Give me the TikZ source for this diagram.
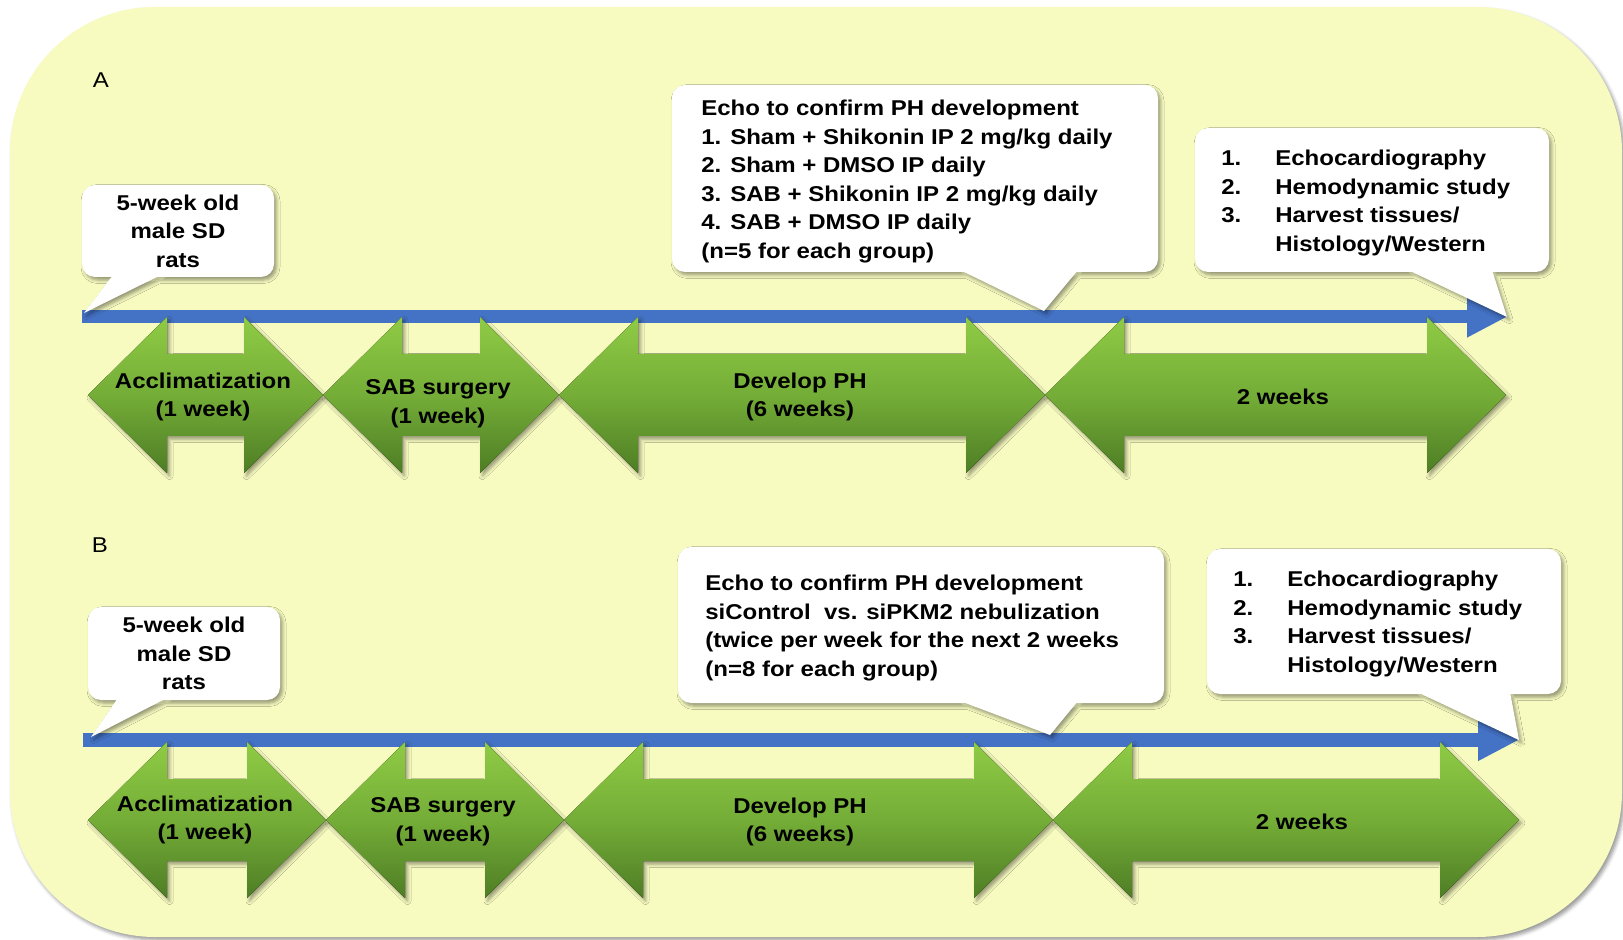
\documentclass[tikz,border=0pt]{standalone}
\usepackage{fontspec}
\setmainfont{Liberation Sans}[FakeStretch=1.12]
\usepackage{tikz}
\usetikzlibrary{calc,shadows.blur,positioning,arrows.meta}
\definecolor{bgyellow}{HTML}{F7FBC0}
\definecolor{lineblue}{HTML}{4472C4}
\definecolor{gtop}{HTML}{8FCB45}
\definecolor{gmid}{HTML}{74AD37}
\definecolor{gbot}{HTML}{4E7D25}
\tikzset{
  >=latex,
  soft shadow/.style={blur shadow={shadow xshift=0.5mm,shadow yshift=-0.6mm,shadow blur radius=0.7mm,shadow opacity=40}},
  big txt/.style={font=\fontsize{12.2}{16.3}\selectfont\bfseries},
  panel label/.style={font=\fontsize{12.2}{16.3}\selectfont,inner sep=0},
  timeline/.style={lineblue,line width=2.7mm,-{Triangle[length=8.2mm,width=7.8mm]}},
  bubble box/.style={rectangle,inner sep=0,outer sep=0},
  bubble/.style={fill=white,soft shadow},
  bubble text/.style={big txt,inner sep=0},
  phase/.style={top color=gtop,bottom color=gbot,middle color=gmid,soft shadow},
  phase text/.style={big txt,align=center,inner sep=0,yshift=-0.4mm}
}
% white speech bubble on box node #1, pointer base at #2..#3 from its left side, tip at #4
\newcommand\bubbleof[4]{%
  \fill[bubble] (#1.south west) [rounded corners=2.6mm] -- (#1.north west) -- (#1.north east) -- (#1.south east) -- cycle
    [sharp corners] ([xshift=#3,yshift=0.4mm]#1.south west) -- (#4) -- ([xshift=#2,yshift=0.4mm]#1.south west) -- cycle;}
% green double arrow from #3 to #4 on height #5, text #6
\newcommand\phase[6][]{%
  \fill[phase] (#3,#5) -- (#3+79,#5-78) -- (#3+79,#5-41) -- (#4-79,#5-41) -- (#4-79,#5-78)
    -- (#4,#5) -- (#4-79,#5+78) -- (#4-79,#5+41) -- (#3+79,#5+41) -- (#3+79,#5+78) -- cycle;
  \node[phase text,#1] (#2) at ({(#3+#4)/2},#5) {#6};}

\begin{document}
\begin{tikzpicture}[x=0.2mm,y=-0.2mm]
  \useasboundingbox (0,0) rectangle (1623,940);

  % background and time axes
  \fill[bgyellow,rounded corners=29mm,soft shadow] (10,7) rectangle (1622,937);
  \coordinate (startA) at (82,316.5);
  \coordinate (endA) at (1508,316.5);
  \coordinate (startB) at (83,740);
  \coordinate (endB) at (1519,740);
  \draw[timeline] (startA) -- (endA);
  \draw[timeline] (startB) -- (endB);

  \node[panel label] (labA) at (101,80) {A};
  \node[panel label] (labB) at (100,545) {B};

  % pointer tips
  \coordinate (tipA1) at (84,313);
  \coordinate (tipA2) at (1044,311);
  \coordinate (tipA3) at (1507,317);
  \coordinate (tipB1) at (91,737);
  \coordinate (tipB2) at (1050,735);
  \coordinate (tipB3) at (1519,740);

  % panel A bubbles
  \path node[bubble box,minimum width=38.4mm,minimum height=18.4mm] (ratsA) at (178,231) {};
  \bubbleof{ratsA}{6.2mm}{15.8mm}{tipA1}
  \node[bubble text,align=center] (ratsAtxt) at (ratsA) {5-week old\\male SD\\rats};

  \path node[bubble box,minimum width=97.2mm,minimum height=37.4mm] (echoA) at (915,178.5) {};
  \bubbleof{echoA}{57.6mm}{81.2mm}{tipA2}
  \node[bubble text,align=left,anchor=west] (echoAtxt) at ([xshift=5.8mm,yshift=-0.6mm]echoA.west)
    {Echo to confirm PH development\\
     1. Sham + Shikonin IP 2 mg/kg daily\\
     2. Sham + DMSO IP daily\\
     3. SAB + Shikonin IP 2 mg/kg daily\\
     4. SAB + DMSO IP daily\\
     (n=5 for each group)};

  \path node[bubble box,minimum width=70.8mm,minimum height=28.8mm] (studyA) at (1372,200) {};
  \bubbleof{studyA}{42.6mm}{59.4mm}{tipA3}
  \node[bubble text,align=left,anchor=west] (studyAtxt) at ([xshift=5.2mm,yshift=-0.6mm]studyA.west)
    {\makebox[10.8mm][l]{1.}Echocardiography\\
     \makebox[10.8mm][l]{2.}Hemodynamic study\\
     \makebox[10.8mm][l]{3.}Harvest tissues/\\
     \makebox[10.8mm][l]{}Histology/Western};

  % panel B bubbles
  \path node[bubble box,minimum width=38.4mm,minimum height=18.6mm] (ratsB) at (184,653.5) {};
  \bubbleof{ratsB}{6mm}{15.8mm}{tipB1}
  \node[bubble text,align=center] (ratsBtxt) at (ratsB) {5-week old\\male SD\\rats};

  \path node[bubble box,minimum width=97.2mm,minimum height=31.2mm] (echoB) at (921,625) {};
  \bubbleof{echoB}{56.4mm}{80mm}{tipB2}
  \node[bubble text,align=left,anchor=west] (echoBtxt) at ([xshift=5.4mm,yshift=-0.6mm]echoB.west)
    {Echo to confirm PH development\\
     siControl\ \ vs. siPKM2 nebulization\\
     (twice per week for the next 2 weeks\\
     (n=8 for each group)};

  \path node[bubble box,minimum width=70.8mm,minimum height=29mm] (studyB) at (1384,621.5) {};
  \bubbleof{studyB}{42mm}{60.6mm}{tipB3}
  \node[bubble text,align=left,anchor=west] (studyBtxt) at ([xshift=5.2mm,yshift=-0.5mm]studyB.west)
    {\makebox[10.8mm][l]{1.}Echocardiography\\
     \makebox[10.8mm][l]{2.}Hemodynamic study\\
     \makebox[10.8mm][l]{3.}Harvest tissues/\\
     \makebox[10.8mm][l]{}Histology/Western};

  % phases
  \phase[xshift=-0.5mm]{acclimA}{88}{323}{395}{Acclimatization\\(1 week)}
  \phase[xshift=-0.6mm,yshift=-1.4mm]{surgA}{323}{559}{395}{SAB surgery\\(1 week)}
  \phase[xshift=-0.4mm]{developA}{559}{1045}{395}{Develop PH\\(6 weeks)}
  \phase[xshift=1.5mm]{twoA}{1045}{1506}{395}{2 weeks}

  \phase[xshift=-0.4mm,yshift=0.4mm]{acclimB}{88}{326}{820}{Acclimatization\\(1 week)}
  \phase[xshift=-0.4mm]{surgB}{326}{564}{820}{SAB surgery\\(1 week)}
  \phase[xshift=-1.7mm]{developB}{564}{1053}{820}{Develop PH\\(6 weeks)}
  \phase[xshift=3.2mm]{twoB}{1053}{1519}{820}{2 weeks}
\end{tikzpicture}
\end{document}
